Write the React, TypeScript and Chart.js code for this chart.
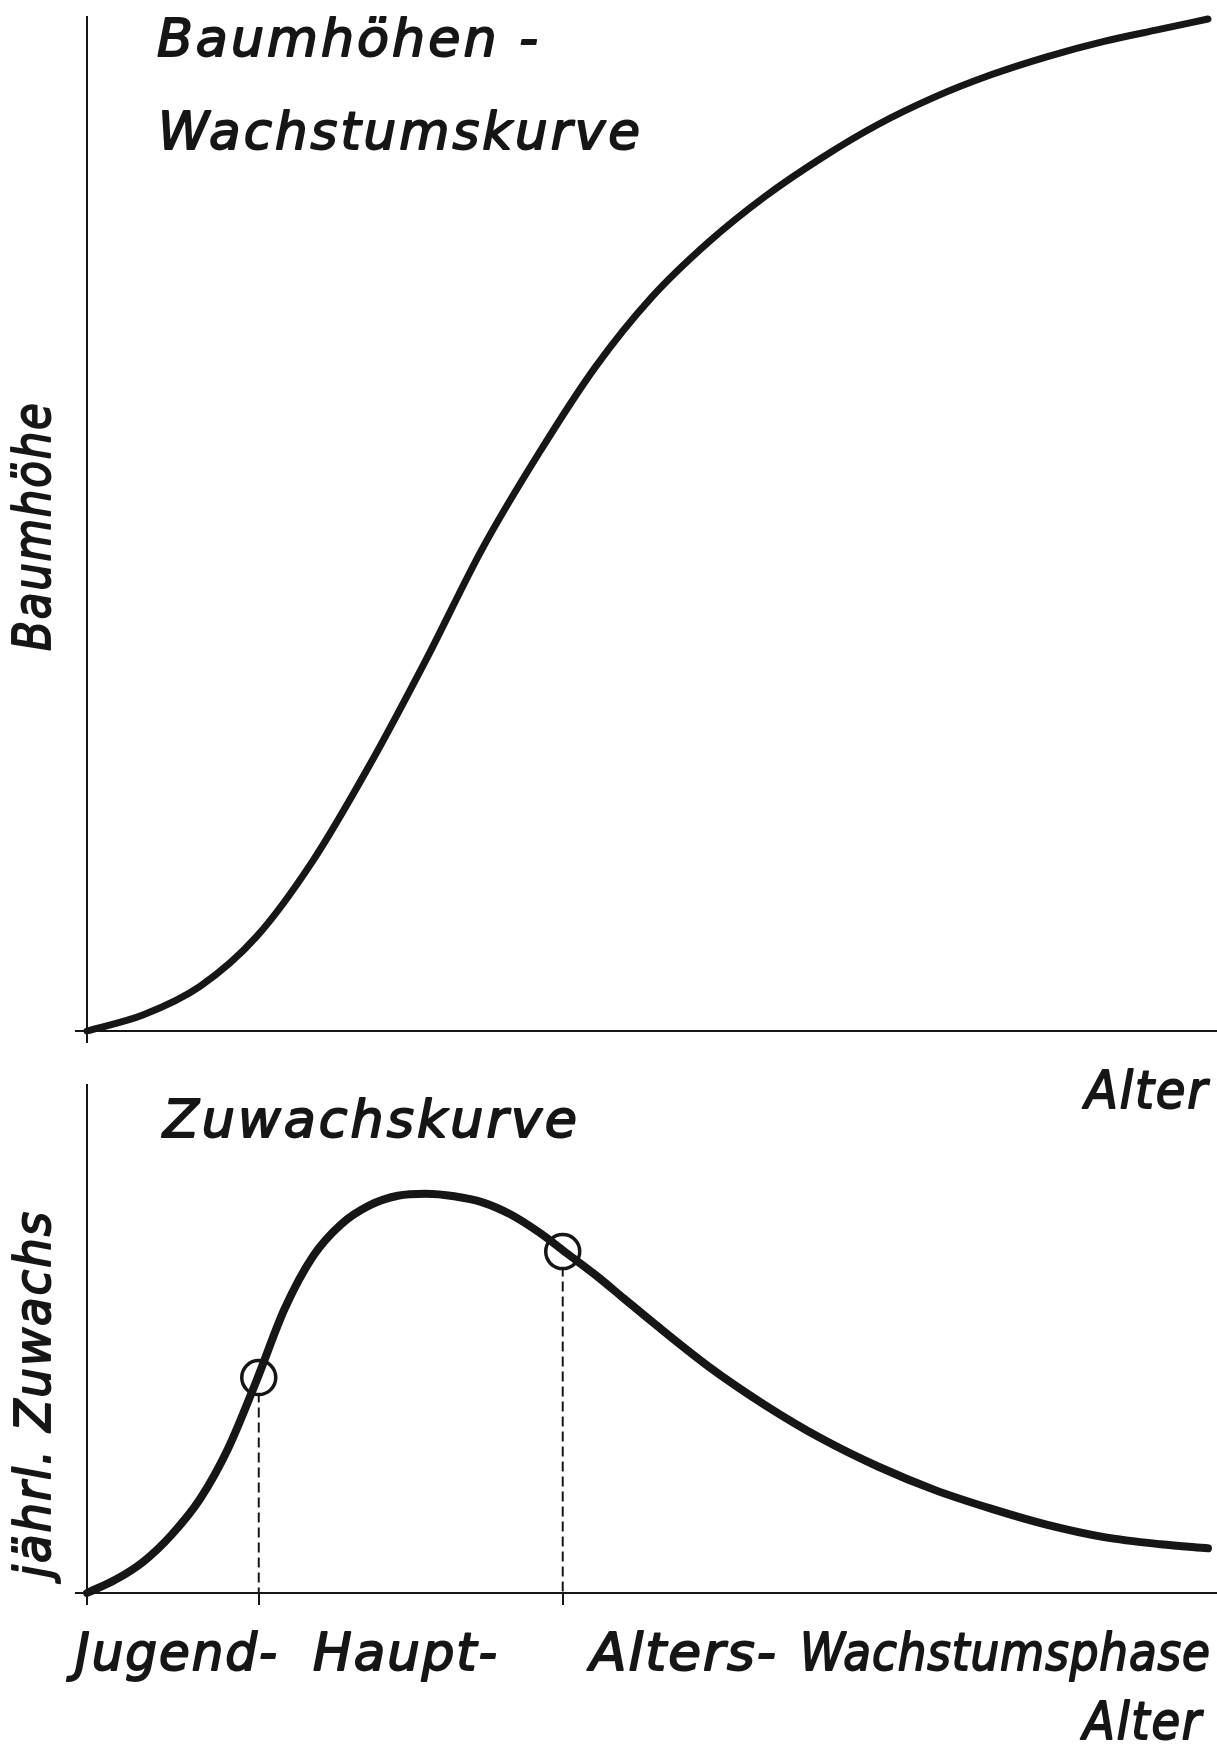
import React, { useEffect, useRef } from "react";
import { Chart, registerables } from "chart.js";

Chart.register(...registerables);

// ---------- data ----------
// Upper panel: tree height vs. age (relative units 0–100)
const heightAge = [0, 5, 10, 15, 20, 25, 30, 35, 40, 45, 50, 55, 60, 65, 70, 75, 80, 85, 90, 95, 99.2];
const heightValues = [0, 1.6, 4.4, 9.3, 16.8, 26.2, 36.6, 47.6, 57.0, 65.5, 72.4, 77.8, 82.3, 86.1, 89.4, 92.1, 94.3, 96.1, 97.6, 98.8, 99.8];

// Lower panel: annual increment vs. age
const incrementAge = [0, 2.5, 5, 7.5, 10, 12.5, 15, 17.5, 20, 22.5, 25, 27.5, 30, 32.5, 35, 37.5, 40, 42.5, 45, 47.5, 50, 55, 60, 65, 70, 75, 80, 85, 90, 95, 99.2];
const incrementValues = [0, 2.6, 6.2, 11.5, 18.5, 28.5, 41.8, 56.0, 66.3, 72.6, 76.3, 78.2, 78.6, 78.1, 76.9, 74.5, 71.0, 66.8, 62.6, 58.0, 53.4, 44.6, 37.0, 30.4, 24.9, 20.3, 16.6, 13.4, 11.0, 9.6, 8.8];

// Phase boundaries (marked with circles on the increment curve)
const phaseAge = [15.2, 42.1];
const phaseIncrement = [42.4, 67.2];

// Texts
const titleTopLines = ["Baumhöhen -", "Wachstumskurve"];
const titleBottom = "Zuwachskurve";
const yTitleTop = "Baumhöhe";
const yTitleBottom = "jährl. Zuwachs";
const xTitle = "Alter";
const phaseLabels = ["Jugend-", "Haupt-", "Alters-", "Wachstumsphase"];

const INK = "#161616";
const FONT = '"DejaVu Sans", sans-serif';

type TextItem = {
  text: string;
  x: number;
  y: number;
  width: number;
  size: number;
  spacing?: number;
  rotate?: boolean;
};

function drawFitted(ctx: CanvasRenderingContext2D, t: TextItem) {
  ctx.save();
  ctx.font = `italic ${t.size}px ${FONT}`;
  ctx.textAlign = "left";
  ctx.textBaseline = "alphabetic";
  ctx.fillStyle = INK;
  ctx.strokeStyle = INK;
  ctx.lineWidth = 1.9;
  ctx.lineJoin = "round";
  const anyCtx = ctx as any;
  const ls = t.spacing ?? 2;
  let w: number;
  if ("letterSpacing" in anyCtx) {
    anyCtx.letterSpacing = `${ls}px`;
    w = ctx.measureText(t.text).width - ls;
  } else {
    w = ctx.measureText(t.text).width;
  }
  const sx = t.width / w;
  ctx.translate(t.x, t.y);
  if (t.rotate) ctx.rotate(-Math.PI / 2);
  ctx.scale(sx, 1);
  ctx.fillText(t.text, 0, 0);
  ctx.strokeText(t.text, 0, 0);
  ctx.restore();
}

function textPlugin(id: string, items: TextItem[], offsetY: number) {
  return {
    id,
    afterDraw(chart: any) {
      const ctx = chart.ctx as CanvasRenderingContext2D;
      items.forEach((it) => drawFitted(ctx, { ...it, y: it.y - offsetY }));
    },
  };
}

function axisScale(extra: any) {
  return {
    type: "linear",
    min: 0,
    max: 100,
    ticks: { display: false },
    grid: {
      drawOnChartArea: false,
      drawTicks: true,
      tickLength: 12,
      color: INK,
      lineWidth: 2,
    },
    border: { display: true, color: INK, width: 2 },
    ...extra,
  };
}

const TOP_H = 1120;
const BOTTOM_TOP = 1060;
const BOTTOM_H = 1749 - BOTTOM_TOP;

export default function App() {
  const topRef = useRef<HTMLCanvasElement | null>(null);
  const bottomRef = useRef<HTMLCanvasElement | null>(null);

  useEffect(() => {
    const topTexts: TextItem[] = [
      { text: titleTopLines[0], x: 157, y: 56, width: 381, size: 52, spacing: 3 },
      { text: titleTopLines[1], x: 158, y: 149, width: 482, size: 52, spacing: 3 },
      { text: yTitleTop, x: 50, y: 651, width: 248, size: 52, rotate: true },
      { text: xTitle, x: 1085, y: 1108, width: 122, size: 52 },
    ];
    const bottomTexts: TextItem[] = [
      { text: titleBottom, x: 163, y: 1137, width: 414, size: 52, spacing: 3 },
      { text: yTitleBottom, x: 50, y: 1578, width: 366, size: 49, rotate: true },
      { text: phaseLabels[0], x: 75, y: 1670, width: 202, size: 52 },
      { text: phaseLabels[1], x: 313, y: 1670, width: 184, size: 52 },
      { text: phaseLabels[2], x: 590, y: 1670, width: 186, size: 52 },
      { text: phaseLabels[3], x: 800, y: 1670, width: 410, size: 52, spacing: 1 },
      { text: xTitle, x: 1083, y: 1739, width: 118, size: 52 },
    ];

    const topChart = new Chart(topRef.current as HTMLCanvasElement, {
      type: "line",
      data: {
        datasets: [
          {
            data: heightAge.map((x, i) => ({ x, y: heightValues[i] })),
            borderColor: INK,
            borderWidth: 7,
            borderCapStyle: "round",
            pointRadius: 0,
            cubicInterpolationMode: "monotone",
            fill: false,
            clip: false,
          } as any,
        ],
      },
      options: {
        animation: false,
        responsive: false,
        devicePixelRatio: 1,
        layout: { autoPadding: false, padding: { top: 17, left: 0, right: 0, bottom: 0 } },
        plugins: {
          legend: { display: false },
          tooltip: { enabled: false },
          title: { display: false },
        },
        scales: {
          x: axisScale({
            afterBuildTicks: (s: any) => {
              s.ticks = [{ value: 0 }];
            },
            afterFit: (s: any) => {
              s.height = TOP_H - 1031;
            },
          }),
          y: axisScale({
            afterBuildTicks: (s: any) => {
              s.ticks = [{ value: 0 }];
            },
            afterFit: (s: any) => {
              s.width = 87;
            },
          }),
        } as any,
      } as any,
      plugins: [textPlugin("topTexts", topTexts, 0)],
    });

    const bottomChart = new Chart(bottomRef.current as HTMLCanvasElement, {
      type: "line",
      data: {
        datasets: [
          {
            data: incrementAge.map((x, i) => ({ x, y: incrementValues[i] })),
            borderColor: INK,
            borderWidth: 8,
            borderCapStyle: "round",
            pointRadius: 0,
            cubicInterpolationMode: "monotone",
            fill: false,
            clip: false,
            order: 0,
          } as any,
          {
            data: phaseAge.map((x, i) => ({ x, y: phaseIncrement[i] })),
            showLine: false,
            pointRadius: 17,
            pointBorderWidth: 3.5,
            pointBorderColor: INK,
            pointBackgroundColor: "#ffffff",
            clip: false,
            order: 1,
          } as any,
          ...phaseAge.map(
            (x, i) =>
              ({
                data: [
                  { x, y: phaseIncrement[i] },
                  { x, y: 0 },
                ],
                borderColor: INK,
                borderWidth: 2,
                borderDash: [10, 5],
                pointRadius: 0,
                fill: false,
                order: 2,
              }) as any
          ),
        ],
      },
      options: {
        animation: false,
        responsive: false,
        devicePixelRatio: 1,
        layout: { autoPadding: false, padding: { top: 1085 - BOTTOM_TOP, left: 0, right: 0, bottom: 0 } },
        plugins: {
          legend: { display: false },
          tooltip: { enabled: false },
          title: { display: false },
        },
        scales: {
          x: axisScale({
            afterBuildTicks: (s: any) => {
              s.ticks = [0, ...phaseAge].map((value) => ({ value }));
            },
            afterFit: (s: any) => {
              s.height = 1749 - 1593;
            },
          }),
          y: axisScale({
            afterBuildTicks: (s: any) => {
              s.ticks = [{ value: 0 }];
            },
            afterFit: (s: any) => {
              s.width = 87;
            },
          }),
        } as any,
      } as any,
      plugins: [textPlugin("bottomTexts", bottomTexts, BOTTOM_TOP)],
    });

    return () => {
      topChart.destroy();
      bottomChart.destroy();
    };
  }, []);

  return (
    <div
      style={{
        position: "absolute",
        left: 0,
        top: 0,
        width: 1217,
        height: 1749,
        background: "#ffffff",
        overflow: "hidden",
      }}
    >
      <canvas
        ref={topRef}
        width={1217}
        height={TOP_H}
        style={{ position: "absolute", left: 0, top: 0, width: 1217, height: TOP_H }}
      />
      <canvas
        ref={bottomRef}
        width={1217}
        height={BOTTOM_H}
        style={{ position: "absolute", left: 0, top: BOTTOM_TOP, width: 1217, height: BOTTOM_H }}
      />
    </div>
  );
}
